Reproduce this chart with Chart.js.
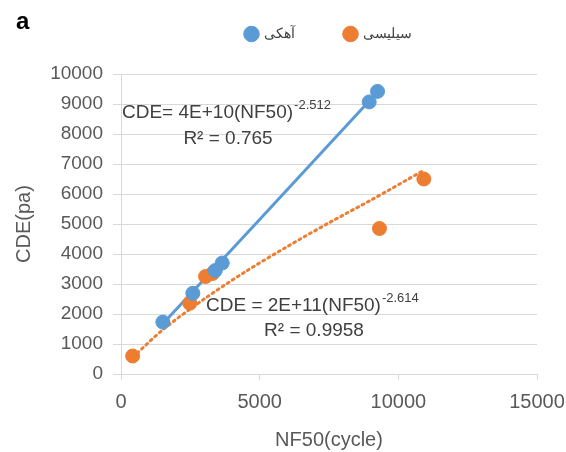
<!DOCTYPE html>
<html>
<head>
<meta charset="utf-8">
<script src="https://cdn.jsdelivr.net/npm/chart.js@4.4.0/dist/chart.umd.min.js"></script>
<style>
  html, body { margin:0; padding:0; background:#fff; }
  #wrap { width:566px; height:452px; position:relative; }
</style>
</head>
<body>
<div id="wrap"><canvas id="chart"></canvas></div>
<script>
// values
const seriesNames = ['آهکی', 'سیلیسی'];
const limeX = [1510, 2590, 3400, 3650, 8950, 9250];
const limeY = [1730, 2690, 3450, 3700, 9070, 9420];
const siliX = [420, 2480, 3050, 3300, 9320, 10920];
const siliY = [600, 2360, 3250, 3350, 4850, 6500];
// trend lines (as drawn in the picture)
const limeTrendX = [1450, 5000, 8950];
const limeTrendY = [1620, 5150, 9100];
const siliTrendX = [430, 1500, 3000, 4500, 6000, 7500, 9000, 10900];
const siliTrendY = [560, 1470, 2500, 3420, 4250, 5040, 5790, 6780];
const xTicks = [0, 5000, 10000, 15000];
const yMax = 10000;

const blue = '#5b9bd5';
const orange = '#ed7d31';
const font = "'Liberation Sans', Arial, sans-serif";
const legendPad = 50;

const pts = (xs, ys) => xs.map((x, i) => ({ x, y: ys[i] }));

// legend: fixed height, centred over the plot area like Excel does
const legendFix = {
  id: 'legendFix',
  beforeLayout(chart) {
    const lg = chart.legend;
    if (!lg || lg._patched) return;
    const fit = lg.fit;
    lg.fit = function () { fit.call(this); this.height = 67; };
    lg._patched = true;
  },
  afterLayout(chart) {
    const lg = chart.legend, ca = chart.chartArea;
    lg.left = ca.left; lg.right = ca.right; lg.width = ca.right - ca.left;
    lg.top = 27 - legendPad;
  }
};

// equation text + panel letter
const notes = {
  id: 'notes',
  afterDraw(chart) {
    const c = chart.ctx;
    c.save();
    c.fillStyle = '#000';
    c.font = `bold 24px ${font}`;
    c.textBaseline = 'middle';
    c.fillText('a', 16, 22);

    c.fillStyle = '#404040';
    const eq = (txt, sup, x, y) => {
      c.font = `19px ${font}`;
      c.textAlign = 'left';
      c.fillText(txt, x, y);
      const w = c.measureText(txt).width;
      c.font = `13px ${font}`;
      c.fillText(sup, x + w + 1, y - 8);
    };
    c.textBaseline = 'middle';
    eq('CDE= 4E+10(NF50)', '-2.512', 122, 113);
    eq('CDE = 2E+11(NF50)', '-2.614', 206, 306);
    c.font = `19px ${font}`;
    c.textAlign = 'center';
    c.fillText('R² = 0.765', 228, 139);
    c.fillText('R² = 0.9958', 314, 331);
    c.restore();
  }
};

new Chart(document.getElementById('chart'), {
  type: 'scatter',
  data: {
    datasets: [
      { label: seriesNames[0], data: pts(limeX, limeY), backgroundColor: blue, borderColor: blue, pointRadius: 7, pointHoverRadius: 7, order: 1 },
      { label: seriesNames[1], data: pts(siliX, siliY), backgroundColor: orange, borderColor: orange, pointRadius: 7, pointHoverRadius: 7, order: 1 },
      { label: 'trend1', data: pts(limeTrendX, limeTrendY), showLine: true, borderColor: blue, borderWidth: 3, pointRadius: 0, order: 2 },
      { label: 'trend2', data: pts(siliTrendX, siliTrendY), showLine: true, borderColor: orange, borderWidth: 3, borderDash: [2, 4], borderCapStyle: 'round', tension: 0.3, pointRadius: 0, order: 2 }
    ]
  },
  options: {
    responsive: true,
    maintainAspectRatio: false,
    animation: false,
    layout: { padding: { left: 0, right: 29, top: 7, bottom: 0 } },
    plugins: {
      tooltip: { enabled: false },
      legend: {
        position: 'top',
        align: 'center',
        labels: {
          usePointStyle: true,
          pointStyle: 'circle',
          boxWidth: 11,
          boxHeight: 11,
          padding: legendPad,
          color: '#404040',
          font: { family: "'Noto Sans', sans-serif", size: 14 },
          filter: item => item.datasetIndex < 2
        }
      }
    },
    scales: {
      x: {
        type: 'linear',
        min: 0, max: 15000,
        afterBuildTicks: s => { s.ticks = xTicks.map(v => ({ value: v })); },
        afterFit: s => { s.height = 78; s.paddingRight = 0; s.paddingLeft = 0; },
        grid: { drawOnChartArea: false, drawTicks: true, tickLength: 6, color: '#d9d9d9' },
        border: { color: '#d9d9d9', width: 1 },
        ticks: { color: '#595959', padding: 10, font: { family: font, size: 20 }, maxRotation: 0, callback: v => String(v) },
        title: { display: true, text: 'NF50(cycle)', color: '#595959', font: { family: font, size: 20 }, padding: { top: 15, bottom: 0 } }
      },
      y: {
        min: 0, max: yMax,
        afterFit: s => { s.width = 121; },
        grid: { color: '#d9d9d9', tickLength: 8 },
        border: { color: '#d9d9d9', width: 1 },
        ticks: { stepSize: 1000, color: '#595959', padding: 10, font: { family: font, size: 19 }, callback: v => String(v) },
        title: { display: true, text: 'CDE(pa)', color: '#595959', font: { family: font, size: 20 }, padding: { top: 12, bottom: 0 } }
      }
    }
  },
  plugins: [legendFix, notes]
});
</script>
</body>
</html>
